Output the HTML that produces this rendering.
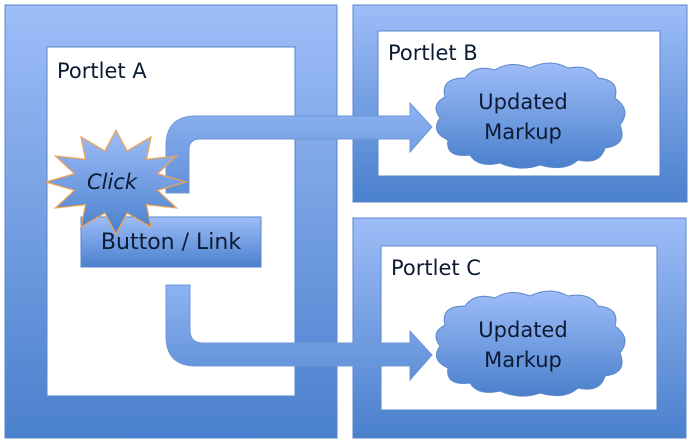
<!DOCTYPE html>
<html><head><meta charset="utf-8"><style>
body{margin:0;background:#fff;}
svg{display:block;}
text{font-family:"DejaVu Sans","Liberation Sans",sans-serif;fill:#0d1a33;}
</style></head><body>
<svg width="690" height="445" viewBox="0 0 690 445" xmlns="http://www.w3.org/2000/svg">
<defs>
<linearGradient id="g" x1="0" y1="0" x2="0" y2="1">
<stop offset="0" stop-color="#9ebdf8"/><stop offset="1" stop-color="#4a80cd"/></linearGradient>
<linearGradient id="gb" x1="0" y1="0" x2="0" y2="1">
<stop offset="0" stop-color="#9ebdf8"/><stop offset="1" stop-color="#4a80cd"/></linearGradient>
<linearGradient id="ga" x1="0" y1="0" x2="0" y2="1">
<stop offset="0" stop-color="#8eb3f2"/><stop offset="1" stop-color="#5f8fd8"/></linearGradient>
</defs>
<path fill-rule="evenodd" fill="url(#g)" stroke="#5a86c8" stroke-width="1" d="M5 5H337V438H5Z M47 47V396H295V47Z"/>
<path fill-rule="evenodd" fill="url(#g)" stroke="#5a86c8" stroke-width="1" d="M353 5H687V202H353Z M378 31V176H660V31Z"/>
<path fill-rule="evenodd" fill="url(#g)" stroke="#5a86c8" stroke-width="1" d="M353 218H686V438H353Z M381 246V410H657V246Z"/>
<text x="57" y="78" font-size="21">Portlet A</text>
<text x="388" y="60" font-size="21">Portlet B</text>
<text x="391" y="275" font-size="21">Portlet C</text>
<path fill="url(#ga)" stroke="#6f97d6" stroke-width="1" d="M166 193V146Q166 116 196 116H410V103L432 127L410 152V139H200Q189 139 189 150V193Z"/>
<path fill="url(#ga)" stroke="#6f97d6" stroke-width="1" d="M166 285H190V330Q190 343 203 343H410V331L432 355L410 380V366H196Q166 366 166 336Z"/>
<rect x="81" y="217" width="180" height="50" fill="url(#gb)" stroke="#5a86c8"/>
<polygon fill="url(#gb)" stroke="#f0a050" stroke-width="1.2" points="186,182 157.5,173.7 176.6,156 146.4,159.4 151,137 127.1,151 116,130 104.9,151 81,137 85.6,159.4 55.4,156 74.5,173.7 46,182 74.5,190.3 55.4,208 85.6,204.6 81,227 104.9,213 116,234 127.1,213 151,227 146.4,204.6 176.6,208 157.5,190.3"/>
<text x="112" y="189" font-size="21" font-style="italic" text-anchor="middle">Click</text>
<text x="171" y="249" font-size="22" text-anchor="middle">Button / Link</text>
<path fill="url(#gb)" stroke="#5a86c8" stroke-width="1" d="M445 97Q440 78 465 78Q475 64 495 70Q510 60 530 68Q550 58 568 68Q590 64 598 78Q620 80 615 98Q632 110 620 125Q628 145 605 148Q600 165 578 160Q565 172 540 165Q520 172 500 163Q478 168 470 155Q445 158 448 140Q430 132 440 118Q430 105 445 97Z"/>
<path fill="url(#gb)" stroke="#5a86c8" stroke-width="1" d="M445 325Q440 306 465 306Q475 292 495 298Q510 288 530 296Q550 286 568 296Q590 292 598 306Q620 308 615 326Q632 338 620 353Q628 373 605 376Q600 393 578 388Q565 400 540 393Q520 400 500 391Q478 396 470 383Q445 386 448 368Q430 360 440 346Q430 333 445 325Z"/>
<text x="523" y="109" font-size="21" text-anchor="middle">Updated</text>
<text x="523" y="139" font-size="21" text-anchor="middle">Markup</text>
<text x="523" y="337" font-size="21" text-anchor="middle">Updated</text>
<text x="523" y="367" font-size="21" text-anchor="middle">Markup</text>
</svg>
</body></html>
